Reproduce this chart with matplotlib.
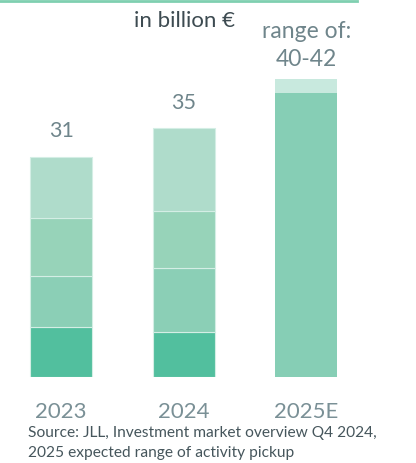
import matplotlib.pyplot as plt
from matplotlib.lines import Line2D

plt.rcParams['font.family'] = ['Lato', 'DejaVu Sans']

# Investment volume in billion EUR, split by quarter (Q1 at the bottom)
years = ['2023', '2024', '2025E']
q1 = [7.0, 6.3]
q2 = [7.2, 9.1]
q3 = [8.2, 8.0]
q4 = [8.6, 11.6]
totals = ['31', '35']
forecast_low = 40
forecast_high = 42

seg_colors = ['#52bf9e', '#8bcfb6', '#97d3b9', '#afdccb']
forecast_color = '#86ceb5'
range_color = '#c8e9de'
label_grey = '#6f858b'

W, H = 416, 463
fig = plt.figure(figsize=(W / 100, H / 100), dpi=100)

# axes laid out in pixels: baseline at y=377, 0.5 bar spacing ~ 61 px
ax = fig.add_axes([0, (H - 377) / H, 367.5 / W, 355 / H])
ax.set_xlim(-0.5, 2.5)
ax.set_ylim(0, 355 / 7.1)

bw = 0.506
x_hist = [0, 1]
bottom = [0, 0]
for vals, c in zip([q1, q2, q3, q4], seg_colors):
    ax.bar(x_hist, vals, bw, bottom=bottom, color=c,
           edgecolor='#d4eee5', linewidth=0.8)
    bottom = [b + v for b, v in zip(bottom, vals)]

# 2025 expected range
ax.bar(2, forecast_low, bw, color=forecast_color, linewidth=0)
ax.bar(2, forecast_high - forecast_low, bw, bottom=forecast_low,
       color=range_color, linewidth=0)

for x, top, t in zip(x_hist, bottom, totals):
    ax.text(x, top + 2.2, t, ha='center', va='bottom', fontsize=15.5,
            color=label_grey)
ax.text(2, forecast_high + 1.2, f'{forecast_low}-{forecast_high}',
        ha='center', va='bottom', fontsize=16.5, color=label_grey)
ax.text(2, forecast_high + 5.2, 'range of:', ha='center', va='bottom',
        fontsize=16.5, color=label_grey)

ax.set_xticks([0, 1, 2])
ax.set_xticklabels(years, fontsize=16, color='#7a9096')
ax.tick_params(axis='x', length=0, pad=18)
ax.set_yticks([])
for s in ax.spines.values():
    s.set_visible(False)

fig.text(184 / W, 1 - 21 / H, 'in billion €', ha='center', va='center',
         fontsize=16, color='#3d4b51')

fig.text(28 / W, 1 - 433 / H, 'Source: JLL, Investment market overview Q4 2024,',
         ha='left', va='center', fontsize=11.2, color='#46565c')
fig.text(28 / W, 1 - 453 / H, '2025 expected range of activity pickup',
         ha='left', va='center', fontsize=11.2, color='#46565c')

fig.add_artist(Line2D([0, 357 / W], [1 - 1 / H, 1 - 1 / H],
                      transform=fig.transFigure, color='#7fcfb0', linewidth=2))

fig.savefig('out.png', dpi=100, facecolor='white')
